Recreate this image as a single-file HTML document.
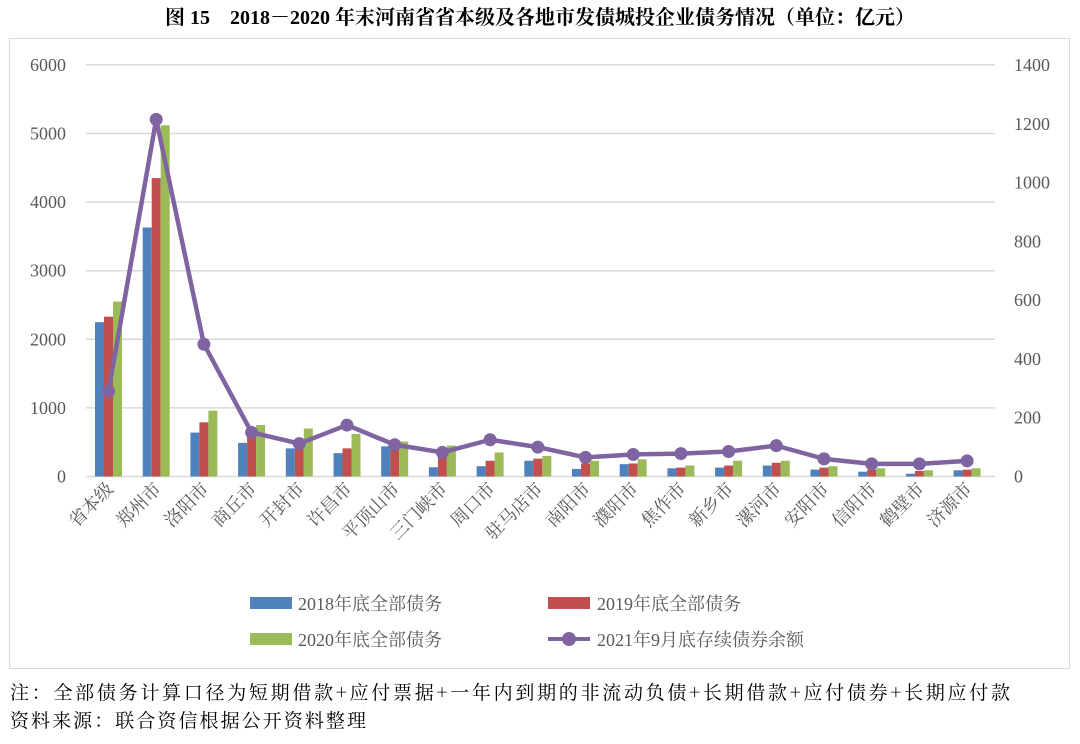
<!DOCTYPE html>
<html><head><meta charset="utf-8"><style>
body{margin:0;background:#fff;width:1080px;height:739px;overflow:hidden;font-family:"Liberation Serif","Noto Serif CJK SC",serif;}
</style></head><body>
<svg width="1080" height="739" xmlns="http://www.w3.org/2000/svg" font-family="Liberation Serif, Noto Serif CJK SC, serif">
<text x="540" y="24" text-anchor="middle" font-size="20" font-weight="bold" fill="#000">图 15　2018－2020 年末河南省省本级及各地市发债城投企业债务情况（单位：亿元）</text>
<rect x="9.5" y="38.5" width="1060" height="630" fill="none" stroke="#d9d9d9"/>
<g id="grid" stroke="#d9d9d9" stroke-width="1.5"></g>
<g id="bars"></g>
<g id="labels" font-size="18" fill="#595959"></g>
<g font-size="18" fill="#595959">
<rect x="250" y="597" width="42" height="12" fill="#4F81BD"/><text x="298" y="610">2018年底全部债务</text>
<rect x="548" y="597" width="42" height="12" fill="#C0504D"/><text x="597" y="610">2019年底全部债务</text>
<rect x="250" y="633" width="42" height="12" fill="#9BBB59"/><text x="298" y="646">2020年底全部债务</text>
<line x1="548" y1="639" x2="590" y2="639" stroke="#8064A2" stroke-width="4"/><circle cx="569" cy="639" r="7" fill="#8064A2"/><text x="597" y="646">2021年9月底存续债券余额</text>
</g>
<text x="10" y="699" font-size="19" fill="#000" font-family="Noto Serif CJK SC, serif" textLength="1000" lengthAdjust="spacing">注：全部债务计算口径为短期借款+应付票据+一年内到期的非流动负债+长期借款+应付债券+长期应付款</text>
<text x="10" y="727" font-size="19" fill="#000" font-family="Noto Serif CJK SC, serif" textLength="356" lengthAdjust="spacing">资料来源：联合资信根据公开资料整理</text>
</svg>
<script>
const ns="http://www.w3.org/2000/svg";
function el(p,t,a,txt){const e=document.createElementNS(ns,t);for(const k in a)e.setAttribute(k,a[k]);if(txt)e.textContent=txt;document.getElementById(p).appendChild(e);return e;}
const y0=476.5,k=0.0686,yr=411.5/1400;
for(let i=0;i<=6;i++){const y=y0-i*68.6;el("grid","line",{x1:86,x2:995,y1:y,y2:y});
el("labels","text",{x:66,y:y+6,"text-anchor":"end"},String(i*1000));}
for(let i=0;i<=7;i++){const y=y0-i*200*yr;el("labels","text",{x:1014,y:y+6},String(i*200));}
const names=["省本级","郑州市","洛阳市","商丘市","开封市","许昌市","平顶山市","三门峡市","周口市","驻马店市","南阳市","濮阳市","焦作市","新乡市","漯河市","安阳市","信阳市","鹤壁市","济源市"];
const d=[[2250,2330,2550,290],[3630,4350,5120,1215],[640,790,960,450],[490,620,750,150],[410,450,700,112],[340,410,620,175],[440,440,510,108],[135,290,450,82],[150,230,350,125],[230,260,300,100],[110,190,230,65],[180,190,250,75],[120,130,160,78],[130,160,230,85],[160,200,230,105],[100,130,150,60],[70,100,120,43],[40,80,90,43],[90,100,120,53]];
const cols=["#4F81BD","#C0504D","#9BBB59"];
let pts=[];
d.forEach((v,i)=>{const bx=95+47.7*i;
for(let j=0;j<3;j++){const h=v[j]*k;el("bars","rect",{x:bx+9*j,y:y0-h,width:9,height:h,fill:cols[j]});}
const cx=bx+13.5;pts.push([cx,y0-v[3]*yr]);
el("labels","text",{x:0,y:0,"text-anchor":"end",transform:`translate(${cx+6},${490}) rotate(-45)`},names[i]);});
el("bars","polyline",{points:pts.map(p=>p.join(",")).join(" "),fill:"none",stroke:"#8064A2","stroke-width":4.5,"stroke-linejoin":"round"});
pts.forEach(p=>el("bars","circle",{cx:p[0],cy:p[1],r:6.5,fill:"#8064A2"}));
</script>
</body></html>
